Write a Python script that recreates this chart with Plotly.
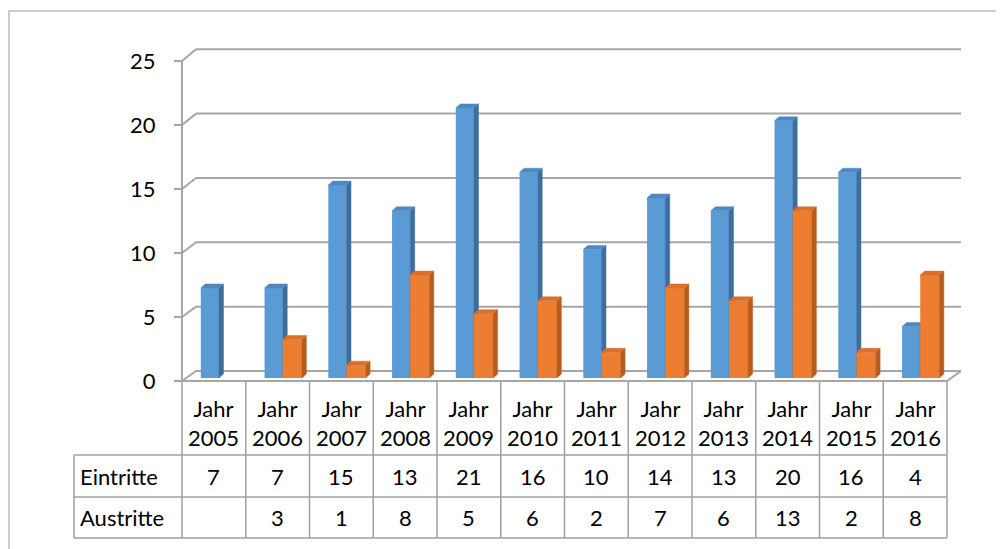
import plotly.graph_objects as go

# ---------------- data ----------------
categories = ["Jahr 2005", "Jahr 2006", "Jahr 2007", "Jahr 2008", "Jahr 2009", "Jahr 2010",
              "Jahr 2011", "Jahr 2012", "Jahr 2013", "Jahr 2014", "Jahr 2015", "Jahr 2016"]
eintritte = [7, 7, 15, 13, 21, 16, 10, 14, 13, 20, 16, 4]
austritte = [None, 3, 1, 8, 5, 6, 2, 7, 6, 13, 2, 8]
series_names = ["Eintritte", "Austritte"]
tick_values = [0, 5, 10, 15, 20, 25]

# ---------------- layout constants ----------------
OFF = 8                      # page body margin
W, H = 1004 - OFF, 549 - OFF
FONT = "Lato"
FS = 22
GRID = "#A6A6A6"
TABLE = "#A0A0A0"

X_LEFT_PX, X_RIGHT_PX = 182 - OFF, 947 - OFF
N = len(categories)
PX_CAT = (X_RIGHT_PX - X_LEFT_PX) / N
BAR0_PX, BAR_SCALE = 378 - OFF, 12.86
FRONT0_PX, FRONT_SCALE = 381 - OFF, 12.8
BACK0_PX, BACK_SCALE = 371 - OFF, 12.87
DEPTH_X = 14

x_range = [-0.5 - X_LEFT_PX / PX_CAT, -0.5 + (W - X_LEFT_PX) / PX_CAT]
y_range = [-(H - BAR0_PX) / BAR_SCALE, BAR0_PX / BAR_SCALE]
y2_range = [-(H - FRONT0_PX) / FRONT_SCALE, FRONT0_PX / FRONT_SCALE]

def P(px):
    return px / W

def Q(py):
    return 1 - py / H

SDX = 4.5 / PX_CAT
SDY = 4.0 / BAR_SCALE

styles = [
    dict(front="#5B9BD5", side="#3D6E9E", top="#4E88C2", offset=-0.205, width=0.285),
    dict(front="#ED7D31", side="#B85C1E", top="#D8702A", offset=0.08, width=0.30),
]

fig = go.Figure()

def add_series(vals, st, name, xa, ya):
    xs = list(range(N))
    fig.add_trace(go.Bar(x=xs, y=vals, name=name, offset=st["offset"], width=st["width"],
                         marker=dict(color=st["front"], line=dict(width=0)),
                         xaxis=xa, yaxis=ya, hoverinfo="skip", showlegend=False))
    sx, sy, tx, ty = [], [], [], []
    for i, v in enumerate(vals):
        if v is None:
            continue
        xl = i + st["offset"]
        xr = xl + st["width"]
        sx += [xr, xr + SDX, xr + SDX, xr, xr, None]
        sy += [0, SDY, v + SDY, v, 0, None]
        tx += [xl, xl + SDX, xr + SDX, xr, xl, None]
        ty += [v, v + SDY, v + SDY, v, v, None]
    fig.add_trace(go.Scatter(x=sx, y=sy, fill="toself", mode="lines", fillcolor=st["side"],
                             line=dict(width=0.5, color=st["side"]), xaxis=xa, yaxis=ya,
                             hoverinfo="skip", showlegend=False))
    fig.add_trace(go.Scatter(x=tx, y=ty, fill="toself", mode="lines", fillcolor=st["top"],
                             line=dict(width=0.5, color=st["top"]), xaxis=xa, yaxis=ya,
                             hoverinfo="skip", showlegend=False))

# invisible trace so the value axis (ticks and labels) is drawn
fig.add_trace(go.Scatter(x=[0] * len(tick_values), y=tick_values, mode="markers",
                         marker=dict(opacity=0), xaxis="x", yaxis="y2",
                         hoverinfo="skip", showlegend=False))
add_series(eintritte, styles[0], series_names[0], "x", "y")
add_series(austritte, styles[1], series_names[1], "x2", "y3")

shapes = []

def line_px(x0, y0, x1, y1, color=GRID, width=2):
    shapes.append(dict(type="line", xref="paper", yref="paper", x0=P(x0), y0=Q(y0),
                       x1=P(x1), y1=Q(y1), line=dict(color=color, width=width), layer="below"))

# outer border
shapes.append(dict(type="rect", xref="paper", yref="paper", x0=P(9 - OFF), y0=Q(11 - OFF),
                   x1=P(W + 10), y1=Q(H + 10), line=dict(color="#BDBDBD", width=1.5),
                   layer="below"))

# back wall grid + connectors
for v in tick_values:
    fy = FRONT0_PX - FRONT_SCALE * v
    by = BACK0_PX - BACK_SCALE * v
    line_px(X_LEFT_PX, fy, X_LEFT_PX + DEPTH_X, by)
    line_px(X_LEFT_PX + DEPTH_X, by, X_RIGHT_PX + DEPTH_X, by)

# front axis line
line_px(X_LEFT_PX, FRONT0_PX - FRONT_SCALE * tick_values[-1], X_LEFT_PX, FRONT0_PX)
# floor front + right edge
line_px(X_LEFT_PX, FRONT0_PX, X_RIGHT_PX, FRONT0_PX)
line_px(X_RIGHT_PX, FRONT0_PX, X_RIGHT_PX + DEPTH_X, BACK0_PX)

# data table
ROW_TOP, ROW1, ROW2, ROW3 = 381 - OFF, 455 - OFF, 497 - OFF, 538 - OFF
LABEL_LEFT = 74 - OFF
for yy in (ROW1, ROW2, ROW3):
    shapes.append(dict(type="line", xref="paper", yref="paper", x0=P(LABEL_LEFT), x1=P(X_RIGHT_PX),
                       y0=Q(yy), y1=Q(yy), line=dict(color=TABLE, width=1.5)))
shapes.append(dict(type="line", xref="paper", yref="paper", x0=P(LABEL_LEFT), x1=P(LABEL_LEFT),
                   y0=Q(ROW1), y1=Q(ROW3), line=dict(color=TABLE, width=1.5)))
for k in range(N + 1):
    shapes.append(dict(type="line", xref="x", yref="paper", x0=k - 0.5, x1=k - 0.5,
                       y0=Q(ROW_TOP), y1=Q(ROW3), line=dict(color=TABLE, width=1.5)))

annotations = []
tfont = dict(family=FONT, size=FS, color="#000000")
for i, c in enumerate(categories):
    annotations.append(dict(xref="x", yref="paper", x=i, y=Q((ROW_TOP + ROW1) / 2 + 5),
                            text=c.replace(" ", "<br>"), showarrow=False, font=tfont,
                            xanchor="center", yanchor="middle"))
for row, (vals, yy0, yy1) in enumerate([(eintritte, ROW1, ROW2), (austritte, ROW2, ROW3)]):
    annotations.append(dict(xref="paper", yref="paper", x=P(LABEL_LEFT + 4), y=Q((yy0 + yy1) / 2),
                            text=series_names[row], showarrow=False, font=tfont,
                            xanchor="left", yanchor="middle"))
    for i, v in enumerate(vals):
        if v is None:
            continue
        annotations.append(dict(xref="x", yref="paper", x=i, y=Q((yy0 + yy1) / 2),
                                text=str(v), showarrow=False, font=tfont,
                                xanchor="center", yanchor="middle"))

hidden = dict(visible=False, fixedrange=True)
fig.update_layout(
    width=W, height=H,
    margin=dict(l=0, r=0, t=0, b=0),
    paper_bgcolor="white", plot_bgcolor="rgba(0,0,0,0)",
    barmode="overlay",
    showlegend=False,
    xaxis=dict(range=x_range, domain=[0, 1], **hidden),
    xaxis2=dict(range=x_range, overlaying="x", **hidden),
    yaxis=dict(range=y_range, domain=[0, 1], **hidden),
    yaxis3=dict(range=y_range, overlaying="y", anchor="x2", **hidden),
    yaxis2=dict(range=y2_range, overlaying="y", anchor="free", position=P(X_LEFT_PX),
                tickvals=tick_values, ticktext=[str(v) for v in tick_values],
                ticks="outside", ticklen=8, tickwidth=2, tickcolor=GRID,
                showline=False, showgrid=False, zeroline=False, fixedrange=True,
                ticklabelstandoff=14,
                tickfont=dict(family=FONT, size=FS, color="#000000")),
    shapes=shapes,
    annotations=annotations,
)

fig.write_html("out.html")
